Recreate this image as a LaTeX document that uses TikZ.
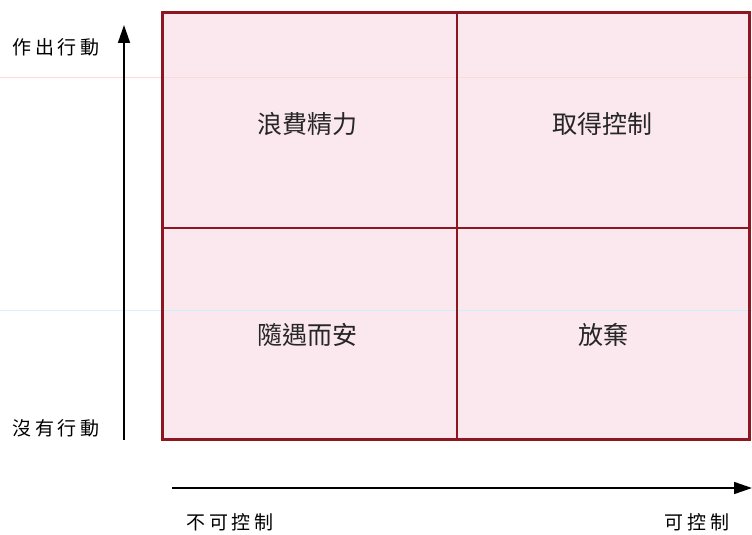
\documentclass[tikz,border=0pt]{standalone}
\usepackage{fontspec}
\newfontfamily\cjk{Noto Sans CJK TC}
\newfontfamily\cjkwide[LetterSpace=20]{Noto Sans CJK TC}
\usetikzlibrary{arrows.meta}
\definecolor{boxred}{HTML}{8E1620}
\definecolor{boxfill}{HTML}{FBE6EE}
\tikzset{
  quad/.style={font=\cjk\fontsize{25}{28}\selectfont, text=black!85},
  axlabel/.style={font=\cjkwide\fontsize{19}{22}\selectfont, text=black},
  axis/.style={line width=1.6pt, -{Triangle[length=18pt,width=12pt]}},
}
\begin{document}
\begin{tikzpicture}[x=1pt,y=-1pt]
\useasboundingbox (0,0) rectangle (752,535);
\fill[white] (0,0) rectangle (752,535);
% faint scan lines
\draw[pink!60, line width=1pt] (0,77) -- (752,77);
\draw[cyan!15, line width=1pt] (0,310) -- (752,310);
% grid
\coordinate (tl) at (162,13);
\coordinate (br) at (749,439);
\fill[boxfill, opacity=0.9] (tl) rectangle (br);
\draw[pink!60, line width=1pt] (162,77) -- (749,77);
\draw[cyan!20, line width=1pt] (162,310) -- (749,310);
\draw[boxred, line width=1.6pt] (457,13) -- (457,439);
\draw[boxred, line width=1.6pt] (162,228) -- (749,228);
\draw[boxred, line width=3pt] (tl) rectangle (br);
% quadrant labels
\node[quad] (q1) at (307,124) {浪費精力};
\node[quad] (q2) at (602,124) {取得控制};
\node[quad] (q3) at (307,335) {隨遇而安};
\node[quad] (q4) at (603,335) {放棄};
% axes
\coordinate (vs) at (124,440);
\coordinate (ve) at (124,25);
\draw[axis] (vs) -- (ve);
\coordinate (hs) at (172,488);
\coordinate (he) at (752,488);
\draw[axis] (hs) -- (he);
% axis labels
\node[axlabel] (top) at (56,47) {作出行動};
\node[axlabel] (bot) at (56,428) {沒有行動};
\node[axlabel] (left) at (230,522) {不可控制};
\node[axlabel] (right) at (697,522) {可控制};
\end{tikzpicture}
\end{document}
